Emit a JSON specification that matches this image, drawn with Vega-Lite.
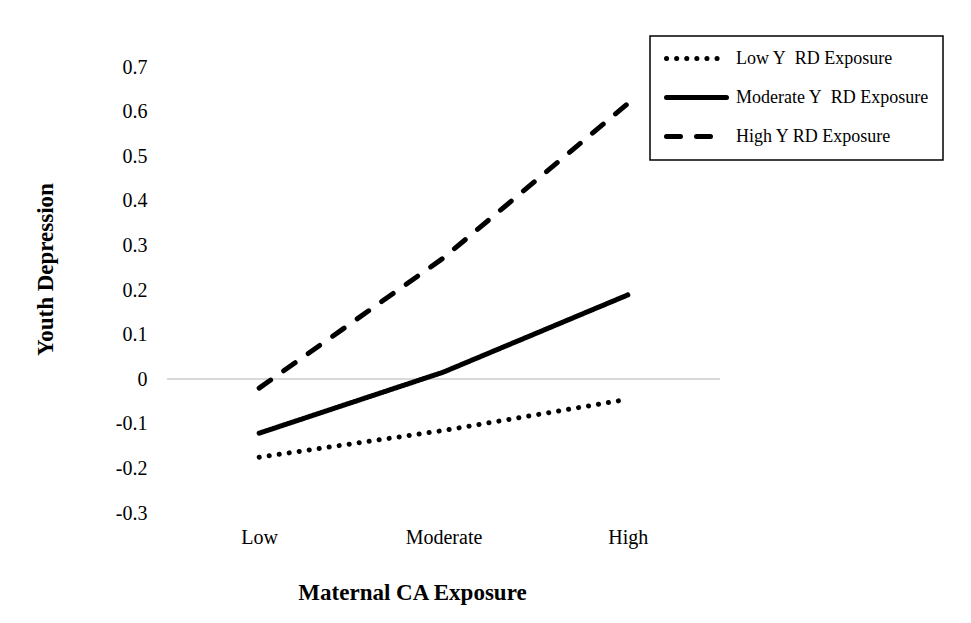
{
  "$schema": "https://vega.github.io/schema/vega-lite/v6.json",
  "width": 553,
  "height": 446,
  "autosize": {"type": "none"},
  "padding": {"left": 167, "top": 67, "right": 251, "bottom": 110},
  "background": "white",
  "config": {
    "view": {"stroke": null},
    "font": "Liberation Serif"
  },
  "data": {
    "values": [
      {"series": "Low Y\u00a0 RD Exposure", "ca": "Low", "dep": -0.175},
      {"series": "Low Y\u00a0 RD Exposure", "ca": "Moderate", "dep": -0.115},
      {"series": "Low Y\u00a0 RD Exposure", "ca": "High", "dep": -0.045},
      {"series": "Moderate Y\u00a0 RD Exposure", "ca": "Low", "dep": -0.121},
      {"series": "Moderate Y\u00a0 RD Exposure", "ca": "Moderate", "dep": 0.016},
      {"series": "Moderate Y\u00a0 RD Exposure", "ca": "High", "dep": 0.189},
      {"series": "High Y RD Exposure", "ca": "Low", "dep": -0.02},
      {"series": "High Y RD Exposure", "ca": "Moderate", "dep": 0.272},
      {"series": "High Y RD Exposure", "ca": "High", "dep": 0.618}
    ]
  },
  "layer": [
    {
      "mark": {"type": "rule", "color": "#d9d9d9", "strokeWidth": 1.5},
      "encoding": {"y": {"datum": 0, "type": "quantitative"}}
    },
    {
      "mark": {"type": "line", "color": "black", "strokeWidth": 5, "strokeCap": "round", "strokeJoin": "round"},
      "encoding": {
        "x": {
          "field": "ca", "type": "ordinal", "sort": ["Low", "Moderate", "High"],
          "scale": {"type": "point", "padding": 0.5},
          "axis": {
            "title": "Maternal CA Exposure",
            "titleFontSize": 23, "titleFontWeight": "bold", "titleColor": "black",
            "titleX": 245, "titleY": 79, "titleBaseline": "middle", "titleAlign": "center",
            "labelFontSize": 20, "labelColor": "black", "labelAngle": 0, "labelPadding": 14,
            "ticks": false, "domain": false, "grid": false
          }
        },
        "y": {
          "field": "dep", "type": "quantitative",
          "scale": {"domain": [-0.3, 0.7], "nice": false, "zero": false},
          "axis": {
            "title": "Youth Depression",
            "titleFontSize": 23, "titleFontWeight": "bold", "titleColor": "black",
            "titleX": -122, "titleY": 202, "titleBaseline": "middle", "titleAlign": "center", "titleAngle": -90,
            "values": [0.7, 0.6, 0.5, 0.4, 0.3, 0.2, 0.1, 0, -0.1, -0.2, -0.3],
            "labelExpr": "'' + datum.value",
            "labelFontSize": 20, "labelColor": "black", "labelPadding": 20,
            "ticks": false, "domain": false, "grid": false
          }
        },
        "strokeDash": {
          "field": "series", "type": "nominal",
          "scale": {
            "domain": ["Low Y\u00a0 RD Exposure", "Moderate Y\u00a0 RD Exposure", "High Y RD Exposure"],
            "range": [[0.1, 10], [1, 0], [14, 16]]
          },
          "legend": {
            "title": null,
            "orient": "none",
            "legendX": 483,
            "legendY": -31,
            "direction": "vertical",
            "strokeColor": "black",
            "fillColor": "white",
            "padding": 14,
            "rowPadding": 20,
            "clipHeight": 17,
            "symbolType": "stroke",
            "symbolSize": 3600,
            "symbolStrokeWidth": 5,
            "symbolStrokeColor": "black",
            "labelFontSize": 18,
            "labelColor": "black",
            "labelOffset": 7,
            "labelLimit": 400,
            "encode": {
              "symbols": {"update": {"strokeCap": {"value": "round"}}},
              "legend": {"update": {"strokeWidth": {"value": 1.5}}}
            }
          }
        }
      }
    }
  ]
}
